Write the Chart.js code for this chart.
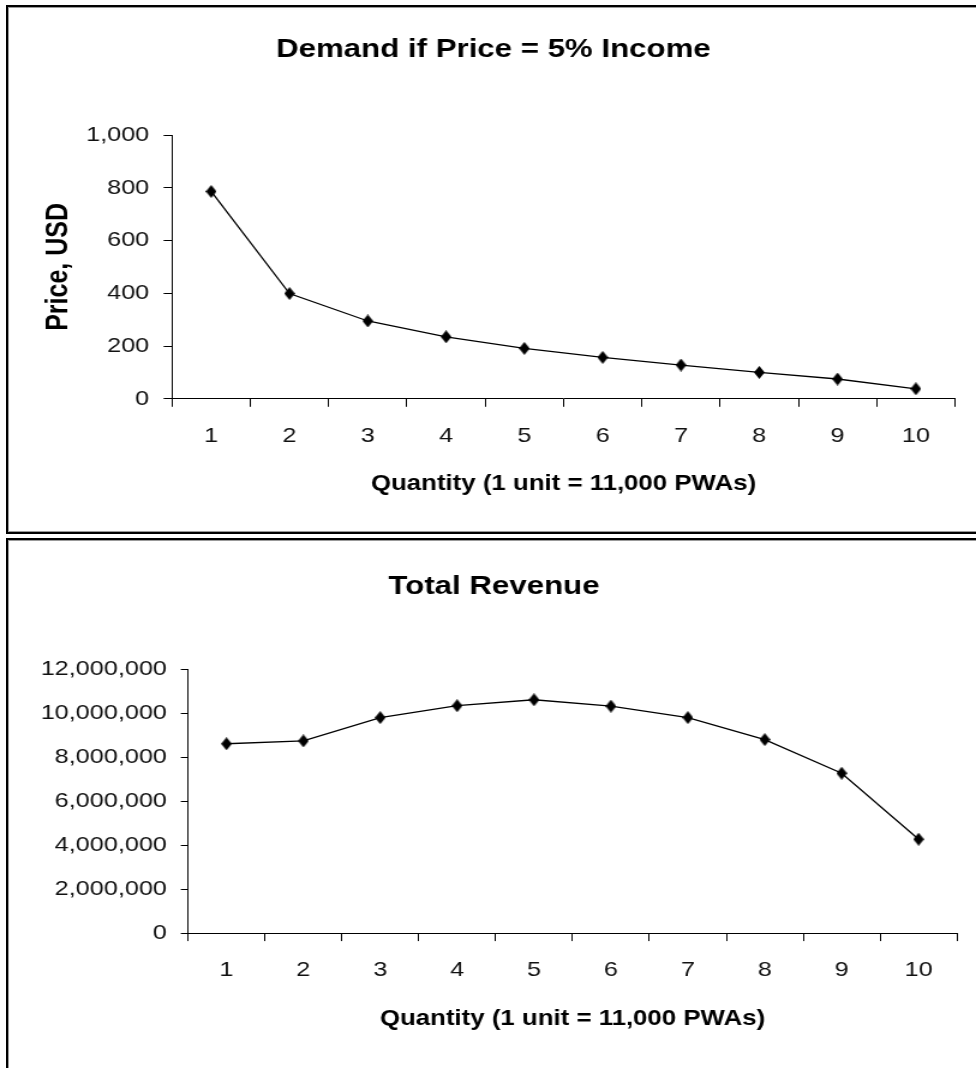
<!DOCTYPE html>
<html>
<head>
<meta charset="utf-8">
<script src="https://cdn.jsdelivr.net/npm/chart.js@4.4.1/dist/chart.umd.min.js"></script>
<style>
  html, body { margin: 0; padding: 0; background: #fff; }
  body { width: 976px; height: 1068px; position: relative; overflow: hidden; }
  canvas { position: absolute; left: 0; }
  .frame { position: absolute; left: 6px; width: 990px; border: 2px solid #000; border-right: none;
           box-shadow: inset 1px 1px 0 #999, inset 0 -1px 0 #999; pointer-events: none; }
</style>
</head>
<body>
<canvas id="demand" width="813" height="536" style="top:0;width:976px;height:536px"></canvas>
<canvas id="revenue" width="813" height="532" style="top:536px;width:976px;height:532px"></canvas>
<div class="frame" style="top:5px;height:525px"></div>
<div class="frame" style="top:538px;height:540px;border-bottom:none"></div>
<script>
var quantity = ['1', '2', '3', '4', '5', '6', '7', '8', '9', '10'];
var price = [786, 399, 295, 235, 191, 157, 128, 100, 75, 38];
var revenue = [8610000, 8740000, 9800000, 10340000, 10610000, 10320000, 9800000, 8800000, 7270000, 4270000];
var priceTicks = [0, 1000, 200];          // min, max, step
var revenueTicks = [0, 12000000, 2000000];

Chart.defaults.font.family = 'Liberation Sans, Arial, sans-serif';
Chart.defaults.color = '#111';

// diamond marker, a bit taller than wide (canvas is stretched sideways by css)
var mark = document.createElement('canvas');
mark.width = 9; mark.height = 13;
var m = mark.getContext('2d');
m.fillStyle = '#000';
m.beginPath();
m.moveTo(4.5, 0); m.lineTo(9, 6.5); m.lineTo(4.5, 13); m.lineTo(0, 6.5);
m.closePath(); m.fill();

function makeChart(id, title, values, ticks, o) {
  return new Chart(document.getElementById(id), {
    type: 'line',
    data: {
      labels: quantity,
      datasets: [{
        data: values,
        borderColor: '#000',
        borderWidth: 1.3,
        tension: 0,
        fill: false,
        pointStyle: mark,
        pointRadius: 5
      }]
    },
    options: {
      responsive: false,
      animation: false,
      events: [],
      layout: { padding: { left: o.left, right: o.right, top: 0, bottom: 0 } },
      plugins: {
        legend: { display: false },
        tooltip: { enabled: false },
        title: {
          display: true,
          text: title,
          color: '#000',
          font: { size: 26, weight: 'bold' },
          padding: { top: o.titleTop, bottom: o.titleBottom }
        }
      },
      scales: {
        x: {
          type: 'category',
          offset: true,
          grid: { offset: true, drawOnChartArea: false, color: '#000', tickLength: 8 },
          border: { color: '#000', width: 1 },
          ticks: { font: { size: 21 }, padding: 17, maxRotation: 0, autoSkip: false },
          title: {
            display: true,
            text: 'Quantity (1 unit = 11,000 PWAs)',
            color: '#000',
            font: { size: 21.5, weight: 'bold' },
            padding: { top: 0, bottom: o.xTitleBottom }
          },
          afterFit: function (s) { s.height = o.xHeight; }
        },
        y: {
          min: ticks[0],
          max: ticks[1],
          grid: { drawOnChartArea: false, color: '#000', tickLength: o.yTick },
          border: { color: '#000', width: 1 },
          ticks: {
            stepSize: ticks[2],
            font: { size: 21 },
            padding: o.yPad,
            callback: function (v) { return v.toLocaleString('en-US'); }
          },
          title: {
            display: !!o.yTitle,
            text: o.yTitle || '',
            color: '#000',
            font: { size: 25, weight: 'bold' },
            padding: { top: 7.7, bottom: 0 }
          },
          afterFit: function (s) { s.width = o.plotLeft - o.left; }
        }
      }
    }
  });
}

makeChart('demand', 'Demand if Price = 5% Income', price, priceTicks, {
  left: 26.5, right: 17.5, titleTop: 34.4, titleBottom: 69.4,
  xHeight: 536 - 398.8, xTitleBottom: 39,
  plotLeft: 143.3, yTick: 7, yPad: 12, yTitle: 'Price, USD'
});

makeChart('revenue', 'Total Revenue', revenue, revenueTicks, {
  left: 25.8, right: 15.8, titleTop: 35.4, titleBottom: 66.6,
  xHeight: 532 - 397.1, xTitleBottom: 36,
  plotLeft: 156.6, yTick: 6, yPad: 11.6
});
</script>
</body>
</html>
